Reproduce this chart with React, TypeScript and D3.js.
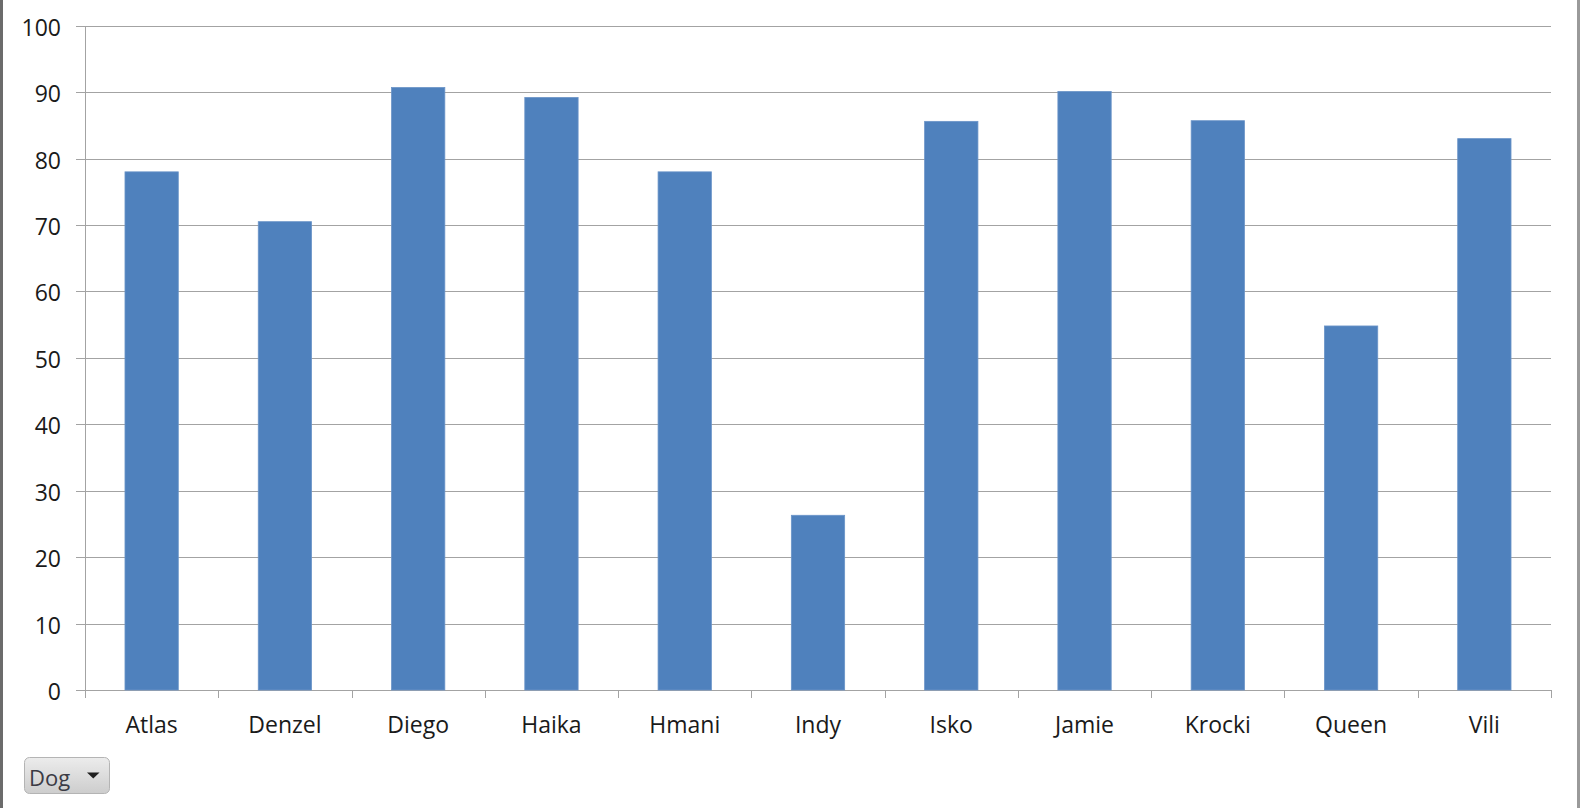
import React from "react";
import * as d3 from "d3";

// dog names and their scores
const dogs = ["Atlas", "Denzel", "Diego", "Haika", "Hmani", "Indy", "Isko", "Jamie", "Krocki", "Queen", "Vili"];
const scores = [78, 70.5, 90.7, 89.2, 78, 26.3, 85.6, 90.1, 85.7, 54.8, 83];
const yTicks = [0, 10, 20, 30, 40, 50, 60, 70, 80, 90, 100];

const W = 1580;
const H = 808;
const left = 85;
const right = 1551;
const top = 25.7;
const bottom = 690;
const font = "'Open Sans', sans-serif";

const App = () => {
  const x = d3.scaleBand<string>().domain(dogs).range([left, right]).paddingInner(0.6).paddingOuter(0.3);
  const y = d3.scaleLinear().domain([0, 100]).range([bottom, top]);
  const step = x.step();
  // category tick boundaries
  const bounds = d3.range(dogs.length + 1).map(i => left + i * step);

  return (
    <div style={{ position: "absolute", left: 0, top: 0 }}>
      <svg width={W} height={H} style={{ display: "block", background: "#fff" }}>
        <defs>
          <linearGradient id="btn" x1="0" y1="0" x2="0" y2="1">
            <stop offset="0" stopColor="#ececec" />
            <stop offset="1" stopColor="#cdcdcd" />
          </linearGradient>
        </defs>
        {/* frame edges */}
        <rect x={0} y={0} width={3} height={H} fill="#6b6b6b" />
        <rect x={1577} y={0} width={3} height={H} fill="#9a9a9a" />

        {/* gridlines + y labels */}
        {yTicks.map(t => (
          <g key={t}>
            <line x1={left - 9} x2={right} y1={Math.round(y(t)) + 0.5} y2={Math.round(y(t)) + 0.5} stroke="#a3a3a3" strokeWidth={1} />
            <text x={61} y={y(t) + 1} textAnchor="end" dominantBaseline="central" fontFamily={font} fontSize={23} fill="#1a1a1a">
              {t}
            </text>
          </g>
        ))}
        <line x1={left + 0.5} x2={left + 0.5} y1={Math.round(top)} y2={bottom + 8} stroke="#a3a3a3" />

        {/* bars */}
        {dogs.map((d, i) => (
          <rect
            key={d}
            x={x(d)}
            y={y(scores[i])}
            width={x.bandwidth()}
            height={bottom - y(scores[i])}
            fill="#4f81bd"
            stroke="#6b94c8"
            strokeWidth={0.8}
          />
        ))}

        {/* x axis ticks */}
        {bounds.map((b, i) => (
          <line key={i} x1={Math.round(b) + 0.5} x2={Math.round(b) + 0.5} y1={bottom} y2={bottom + 8} stroke="#a3a3a3" />
        ))}
        {dogs.map(d => (
          <text key={d} x={x(d)! + x.bandwidth() / 2} y={733} textAnchor="middle" fontFamily={font} fontSize={23} fill="#1a1a1a">
            {d}
          </text>
        ))}

        {/* field button */}
        <rect x={24.5} y={757.5} width={85} height={36} rx={5} fill="url(#btn)" stroke="#b4b4b4" />
        <text x={29} y={786} fontFamily={font} fontSize={22} fill="#3b3b45">Dog</text>
        <path d="M87,772.5 L99.5,772.5 L93.25,778.5 Z" fill="#1f1f1f" />
      </svg>
    </div>
  );
};

export default App;
